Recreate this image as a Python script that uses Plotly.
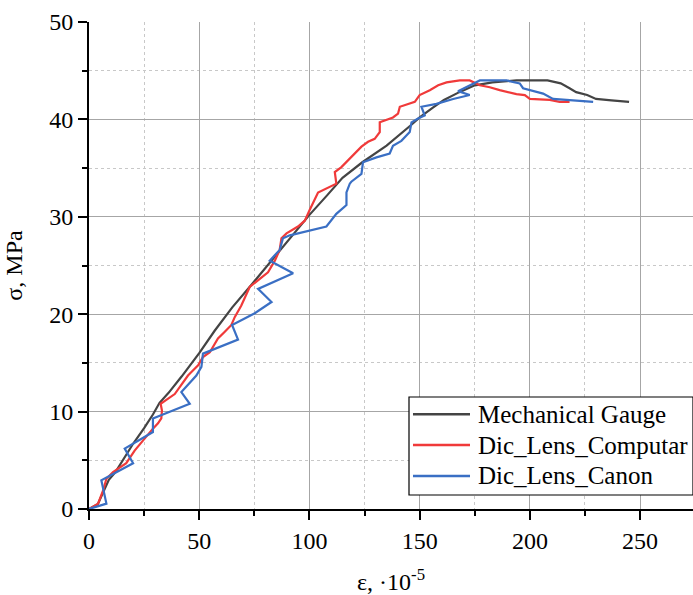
import plotly.graph_objects as go

# Mechanical Gauge
mech_x = [0, 4, 7, 9, 12, 16, 20, 25, 29, 32, 36, 42, 50, 57, 65, 74, 81, 88, 95, 100, 108, 115,
          124, 135, 146, 150, 156, 161, 168, 175, 183, 194, 208, 214, 218, 221, 226, 230, 237, 245]
mech_y = [0, 0.5, 2.0, 3.0, 3.8, 5.2, 6.7, 8.3, 9.7, 10.9, 11.9, 13.6, 16.0, 18.3, 20.7, 23.1, 25.0,
          26.9, 28.8, 30.2, 32.2, 34.0, 35.6, 37.3, 39.4, 40.2, 41.2, 42.0, 42.8, 43.5, 43.8, 44.0,
          44.0, 43.7, 43.2, 42.8, 42.5, 42.1, 41.95, 41.8]

# Dic_Lens_Computar
comp_x = [0, 4.1, 6.4, 7.9, 10.9, 16.9, 20.7, 24.5, 29, 31.3, 32.8, 33.1, 32.5, 38.9, 41.9, 44.9,
          49.5, 51.7, 54.8, 58.5, 61.6, 64.6, 66.1, 69.1, 72.9, 76.7, 81.2, 84.3, 86.5, 87.3, 89.6,
          94.8, 97.9, 100.1, 103.9, 112.2, 111.5, 114.5, 119, 123.6, 126.6, 129.6, 131.9, 131.9,
          137.9, 140.2, 141, 147.8, 150, 154.6, 158.4, 162.2, 165.2, 168.2, 172.7, 177.3, 181.8,
          186.3, 193.9, 197.7, 200, 209, 213.5, 218]
comp_y = [0, 0.55, 1.9, 3.1, 3.8, 4.7, 6.0, 7.05, 8.25, 8.8, 9.3, 10.1, 10.8, 11.8, 12.7, 13.7,
          14.75, 15.6, 16.1, 17.5, 18.2, 18.9, 19.7, 20.9, 22.8, 23.5, 24.3, 25.5, 26.6, 27.8, 28.3,
          29.0, 29.6, 30.7, 32.5, 33.4, 34.6, 35.1, 36.1, 37.2, 37.7, 38.0, 38.7, 39.7,
          40.2, 40.6, 41.3, 41.8, 42.5, 43.0, 43.5, 43.8, 43.9, 44.0, 44.0, 43.5, 43.3,
          43.0, 42.6, 42.5, 42.1, 42.0, 41.8, 41.8]

# Dic_Lens_Canon
canon_x = [0, 7.9, 5.6, 10.9, 20, 16.2, 29, 29, 45.7, 41.9, 48.7, 51, 51.7, 67.6, 64.9, 75.2, 82.8,
           76.7, 92.6, 82, 86.5, 88, 91.1, 107.7, 112.2, 116.8, 116.8, 118.3, 119, 123.6, 124.3,
           130.4, 136.4, 137.9, 141.7, 145.5, 146.3, 149.3, 152.3, 150.8, 157.6, 165.2, 172.7,
           167.4, 174.2, 177.3, 189.4, 195.4, 196.9, 200.7, 206, 210.5, 216.6, 228.7]
canon_y = [0, 0.55, 2.95, 3.6, 4.7, 6.2, 7.9, 9.3, 10.8, 12.0, 13.7, 14.6, 15.95, 17.4, 18.9, 20.1,
           21.25, 22.6, 24.2, 25.5, 26.6, 27.8, 28.1, 29.0, 30.3, 31.2, 32.5, 33.4, 33.6, 34.4, 35.6,
           36.1, 36.5, 37.3, 37.8, 38.7, 39.7, 40.1, 40.4, 41.3, 41.6, 42.1, 42.5,
           42.9, 43.7, 44.0, 44.0, 43.7, 43.2, 43.0, 42.65, 42.1, 42.0, 41.8]

series_names = ["Mechanical Gauge", "Dic_Lens_Computar", "Dic_Lens_Canon"]
series_colors = ["#444444", "#F03A3A", "#3A6FC4"]

x_ticks = [0, 50, 100, 150, 200, 250]
y_ticks = [0, 10, 20, 30, 40, 50]

FONT = "Liberation Serif"

fig = go.Figure()
for name, color, xs, ys in zip(series_names, series_colors,
                               [mech_x, comp_x, canon_x], [mech_y, comp_y, canon_y]):
    fig.add_trace(go.Scatter(x=xs, y=ys, mode="lines", name=name,
                             line=dict(color=color, width=2.2), showlegend=False))

# Boxed legend drawn in paper coordinates (long line samples as in the original)
box_x0, box_x1, box_y0, box_y1 = 0.5298, 1.0, 0.0287, 0.230
row_y = [0.1945, 0.1314, 0.0678]
shapes = [dict(type="rect", xref="paper", yref="paper", x0=box_x0, x1=box_x1, y0=box_y0, y1=box_y1,
               line=dict(color="black", width=1.2), fillcolor="white", layer="above")]
annotations = []
for name, color, yy in zip(series_names, series_colors, row_y):
    shapes.append(dict(type="line", xref="paper", yref="paper", x0=0.5364, x1=0.6308, y0=yy, y1=yy,
                       line=dict(color=color, width=2.4), layer="above"))
    annotations.append(dict(text=name, xref="paper", yref="paper", x=0.641, y=yy,
                            xanchor="left", yanchor="middle", showarrow=False,
                            font=dict(family=FONT, size=25, color="black")))

fig.update_layout(
    width=693, height=595,
    margin=dict(l=89, r=0, t=22, b=86, pad=0),
    plot_bgcolor="white", paper_bgcolor="white",
    font=dict(family=FONT, size=24, color="black"),
    showlegend=False,
    shapes=shapes,
    annotations=annotations,
)
fig.update_xaxes(
    range=[0, 274], tickvals=x_ticks, ticks="outside", ticklen=9, tickwidth=2,
    tickcolor="black", showline=True, linecolor="black", linewidth=2,
    showgrid=True, gridcolor="#a6a6a6", gridwidth=1, zeroline=False,
    minor=dict(dtick=25, tick0=0, ticks="outside", ticklen=5, tickwidth=1.5, tickcolor="black",
               showgrid=True, gridcolor="#c8c8c8", griddash="dot", gridwidth=1),
    title=dict(text="ε, ·10<sup>-5</sup>", font=dict(family=FONT, size=24), standoff=28),
    tickfont=dict(family=FONT, size=24), automargin=False,
)
fig.update_yaxes(
    range=[0, 50], tickvals=y_ticks, ticks="outside", ticklen=9, tickwidth=2,
    tickcolor="black", showline=True, linecolor="black", linewidth=2,
    showgrid=True, gridcolor="#a6a6a6", gridwidth=1, zeroline=False,
    minor=dict(dtick=5, tick0=0, ticks="outside", ticklen=5, tickwidth=1.5, tickcolor="black",
               showgrid=True, gridcolor="#c8c8c8", griddash="dot", gridwidth=1),
    title=dict(text="σ, MPa", font=dict(family=FONT, size=24), standoff=20),
    tickfont=dict(family=FONT, size=24), automargin=False,
)

fig.write_html(
    "out.html",
    config={"responsive": False, "displayModeBar": False},
    post_script="document.body.style.margin='0px';document.body.style.overflow='hidden';",
)
